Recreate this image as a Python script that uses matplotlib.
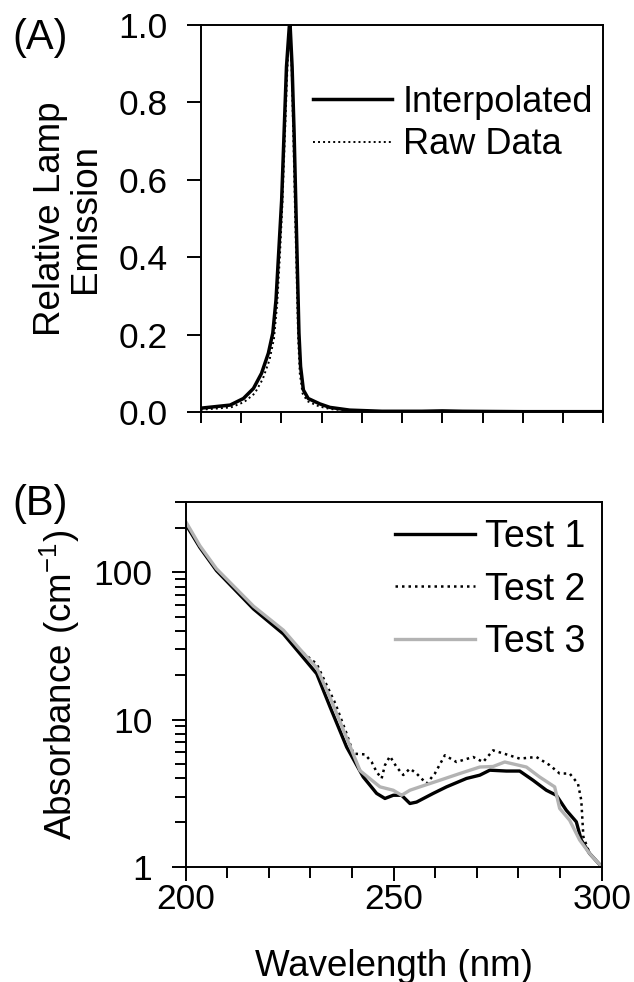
import numpy as np
import matplotlib
matplotlib.use("Agg")
import matplotlib.pyplot as plt
from matplotlib.ticker import MultipleLocator, FixedLocator, NullFormatter

plt.rcParams['font.family'] = ['Liberation Sans', 'DejaVu Sans']
plt.rcParams['mathtext.fontset'] = 'custom'
plt.rcParams['mathtext.rm'] = 'Liberation Sans'

# (A) lamp emission
wl_interp = [200, 207.3, 210.6, 213.1, 215.1, 216.8, 217.9, 218.7, 219.4, 220.1, 220.7, 221.3, 222.0, 222.2,
             222.7, 223.2, 223.6, 224.0, 224.4, 224.8, 225.5, 226.7, 229.6, 232.1, 237, 245, 255, 260, 265, 280, 300]
em_interp = [0.010, 0.018, 0.035, 0.061, 0.10, 0.152, 0.204, 0.29, 0.418, 0.547, 0.72, 0.892, 0.996, 1.0,
             0.892, 0.72, 0.547, 0.375, 0.204, 0.118, 0.057, 0.035, 0.021, 0.012, 0.005, 0.002, 0.002, 0.003, 0.002, 0.001, 0.001]
wl_raw = [200, 207.5, 210.8, 213.4, 215.4, 217.1, 218.2, 219.0, 219.7, 220.3, 220.9, 221.5, 222.0, 222.2,
          222.6, 223.0, 223.4, 223.8, 224.2, 224.6, 225.3, 226.5, 229.3, 232, 237, 245, 255, 260, 265, 280, 300]
em_raw = [0.006, 0.012, 0.026, 0.048, 0.085, 0.135, 0.19, 0.28, 0.41, 0.54, 0.71, 0.88, 0.99, 1.0,
          0.88, 0.71, 0.53, 0.36, 0.19, 0.10, 0.048, 0.028, 0.015, 0.008, 0.003, 0.001, 0.001, 0.002, 0.001, 0.001, 0.001]

# (B) absorbance
wl_t1 = [200, 203.4, 207.4, 216.3, 223.5, 227.5, 231.5, 234.7, 238.7, 242.7, 245.9, 247.9,
         249.9, 251.9, 253.9, 255.5, 259.5, 262.7, 267.5, 270.7, 273.1, 277.1, 280.3, 283.5,
         286.7, 289.1, 291.5, 293.9, 295.1, 297.1, 300]
ab_t1 = [213, 148, 103, 56.5, 38.2, 28, 20.5, 12.2, 6.5, 4.07, 3.15, 2.91,
         3.06, 3.06, 2.69, 2.75, 3.15, 3.49, 3.98, 4.19, 4.53, 4.47, 4.47, 3.87,
         3.31, 3.06, 2.42, 2.02, 1.52, 1.23, 1.0]
wl_t2 = [200, 203.4, 207.4, 216.3, 223.5, 227.5, 231.5, 236, 238.7, 240.3, 243.1, 244.7,
         245.9, 247.1, 247.9, 249.1, 250.7, 252.3, 253.9, 255.5, 257.9, 259.9, 262.3, 265.1,
         269.1, 271.5, 273.9, 277.1, 280.3, 284.3, 287.5, 289.9, 292.3, 294.3, 295.1, 295.6,
         297.1, 300]
ab_t2 = [215, 150, 105, 58, 39.5, 29.5, 23.9, 12.8, 8.0, 5.87, 5.8, 5.15,
         4.41, 3.98, 4.9, 5.63, 4.76, 4.2, 4.64, 4.3, 3.67, 4.3, 5.72, 5.15,
         5.57, 5.15, 6.18, 5.8, 5.43, 5.57, 4.9, 4.3, 4.3, 3.67, 2.83, 1.6,
         1.23, 1.0]
wl_t3 = [200, 203.4, 207.4, 216.3, 223.5, 227.5, 231.5, 235, 238.7, 241.9, 246.7, 249.9,
         251.9, 253.9, 256.3, 261.1, 265.9, 270.7, 273.9, 276.7, 281.9, 285.1, 288.7, 289.9,
         292.3, 294.7, 297.1, 300]
ab_t3 = [222, 152, 106, 59, 40.5, 30, 22.5, 13.5, 7.5, 4.5, 3.49, 3.31,
         3.06, 3.31, 3.49, 3.87, 4.3, 4.76, 4.8, 5.15, 4.76, 4.07, 3.49, 2.49,
         2.07, 1.52, 1.23, 1.0]

fs_tick = 25.5
fs_lab = 26.5
fig = plt.figure(figsize=(6.34, 9.82), dpi=100)
axA = fig.add_axes([0.3166, 0.5804, 0.635, 0.3941])
axB = fig.add_axes([0.2929, 0.1174, 0.6561, 0.3711])

for ax in (axA, axB):
    for s in ax.spines.values():
        s.set_linewidth(1.4)
    ax.tick_params(which='both', direction='out', width=1.4, labelsize=fs_tick, color='black')
    ax.tick_params(which='major', length=10)
    ax.tick_params(which='minor', length=8)
    ax.tick_params(axis='y', which='major', pad=14)
    ax.tick_params(axis='x', which='major', pad=2)

axA.plot(wl_interp, em_interp, color='black', lw=2.5, label='Interpolated')
axA.plot(wl_raw, em_raw, color='black', lw=1.4, ls=(0, (1, 1.6)), label='Raw Data')
axA.set_xlim(200, 300)
axA.set_ylim(0, 1.0)
axA.xaxis.set_major_locator(MultipleLocator(10))
axA.xaxis.set_major_formatter(NullFormatter())
axA.tick_params(axis='x', which='major', length=8)
axA.yaxis.set_major_locator(MultipleLocator(0.2))
axA.yaxis.set_major_formatter(plt.FuncFormatter(lambda v, p: f"{v:.1f}"))
axA.set_ylabel('Relative Lamp\nEmission', fontsize=fs_lab, linespacing=1.0)
axA.yaxis.set_label_coords(-0.242, 0.5)
axA.legend(loc='upper right', bbox_to_anchor=(0.975, 0.845), frameon=False, fontsize=26,
           handlelength=2.2, handletextpad=0.3, labelspacing=0.2, borderpad=0, borderaxespad=0)
fig.text(0.02, 0.982, '(A)', fontsize=30, va='top')

axB.plot(wl_t1, ab_t1, color='black', lw=2.4, label='Test 1')
axB.plot(wl_t2, ab_t2, color='black', lw=1.8, ls=(0, (1, 1.6)), label='Test 2')
axB.plot(wl_t3, ab_t3, color='#b3b3b3', lw=2.4, label='Test 3')
axB.set_yscale('log')
axB.set_xlim(200, 300)
axB.set_ylim(1, 300)
axB.xaxis.set_major_locator(FixedLocator([200, 250, 300]))
axB.xaxis.set_minor_locator(MultipleLocator(10))
axB.yaxis.set_major_locator(FixedLocator([1, 10, 100]))
axB.yaxis.set_major_formatter(plt.FuncFormatter(lambda v, p: f"{v:g}"))
axB.set_xlabel('Wavelength (nm)', fontsize=fs_lab)
axB.xaxis.set_label_coords(0.5, -0.225)
axB.set_ylabel('Absorbance (cm$^{-1}$)', fontsize=fs_lab)
axB.yaxis.set_label_coords(-0.25, 0.5)
axB.legend(loc='upper right', bbox_to_anchor=(0.96, 0.955), frameon=False, fontsize=27,
           handlelength=2.15, handletextpad=0.25, labelspacing=0.45, borderpad=0, borderaxespad=0)
fig.text(0.02, 0.5075, '(B)', fontsize=30, va='top')

fig.savefig('out.png', dpi=100)
